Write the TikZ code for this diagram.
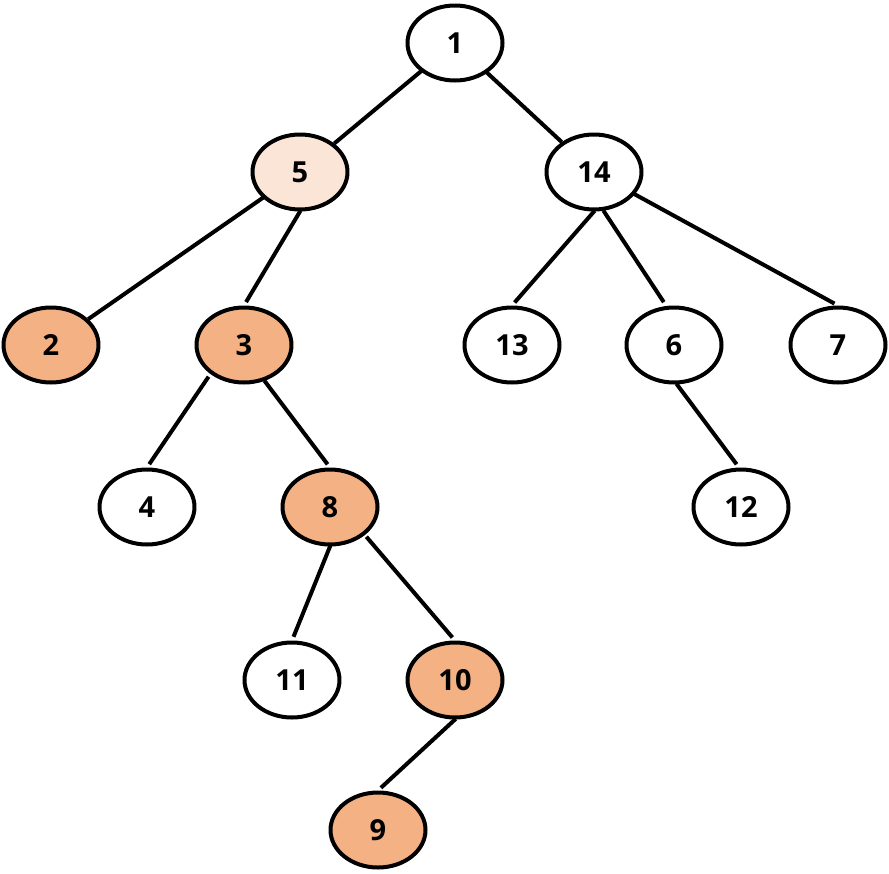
\documentclass[tikz,border=0pt]{standalone}
\usepackage{fontspec}
\setmainfont{Open Sans}
\usetikzlibrary{shapes.geometric}
\definecolor{peach}{HTML}{F4B183}
\definecolor{lightpeach}{HTML}{FBE5D6}
\begin{document}
\begin{tikzpicture}[x=1pt,y=-1pt,line join=round,
  vert/.style={ellipse,draw,line width=4pt,fill=white,minimum width=95pt,minimum height=75pt,inner sep=0pt,font=\bfseries\fontsize{29}{34}\selectfont},
  marked/.style={vert,fill=peach},
  half/.style={vert,fill=lightpeach},
  link/.style={line width=4pt,shorten <=-1pt,shorten >=4pt}]
\useasboundingbox (0,0) rectangle (889,873);
\node[vert] (n1) at (455,43) {1};
\node[half] (n5) at (300,172) {5};
\node[vert] (n14) at (594,172) {14};
\node[marked] (n2) at (51,345) {2};
\node[marked] (n3) at (244,345) {3};
\node[vert] (n13) at (512,345) {13};
\node[vert] (n6) at (674,345) {6};
\node[vert] (n7) at (838,345) {7};
\node[vert] (n4) at (147,507) {4};
\node[marked] (n8) at (330,507) {8};
\node[vert] (n12) at (741,507) {12};
\node[vert] (n11) at (292,680) {11};
\node[marked] (n10) at (455,680) {10};
\node[marked] (n9) at (378,830) {9};
\draw[link,shorten >=0pt] (n1) -- (n5);
\draw[link,shorten >=0pt] (n1) -- (n14);
\draw[link,shorten >=0pt] (n5) -- (n2);
\draw[link] (n5.south) -- (n3.north);
\draw[link] (n14.south) -- (n13.north);
\draw[link] ([xshift=10pt]n14.south) -- ([xshift=-8pt]n6.north);
\draw[link] (n14) -- (n7.north);
\draw[link] ([xshift=-36pt,yshift=7pt]n3.south) -- (n4.north);
\draw[link] ([xshift=21pt,yshift=3pt]n3.south) -- (n8.north);
\draw[link] ([xshift=3pt]n6.south) -- ([xshift=-2pt]n12.north);
\draw[link] (n8.south) -- (n11.north);
\draw[link] ([xshift=37pt,yshift=9pt]n8.south) -- (n10.north);
\draw[link] (n10.south) -- (n9.north);
\end{tikzpicture}
\end{document}
